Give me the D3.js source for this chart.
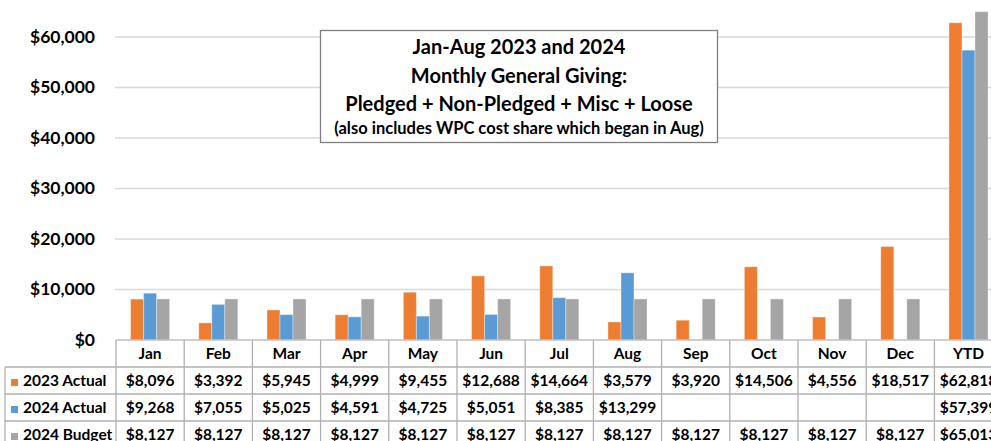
<!DOCTYPE html>
<html><head><meta charset="utf-8">
<script src="https://cdn.jsdelivr.net/npm/d3@7"></script>
<style>
html,body{margin:0;padding:0;background:#fff;overflow:hidden}
svg{display:block;font-family:Lato,"Open Sans",sans-serif;font-weight:bold}
</style></head><body>
<svg id="c" width="991" height="441"></svg>
<script>
const categories = ["Jan","Feb","Mar","Apr","May","Jun","Jul","Aug","Sep","Oct","Nov","Dec","YTD"];
const seriesNames = ["2023 Actual","2024 Actual","2024 Budget"];
const actual2023 = [8096,3392,5945,4999,9455,12688,14664,3579,3920,14506,4556,18517,62818];
const actual2024 = [9268,7055,5025,4591,4725,5051,8385,13299,null,null,null,null,57399];
const budget2024 = [8127,8127,8127,8127,8127,8127,8127,8127,8127,8127,8127,8127,65013];
const yTicks = [0,10000,20000,30000,40000,50000,60000];
const titleLines = ["Jan-Aug 2023 and 2024","Monthly General Giving:","Pledged + Non-Pledged + Misc + Loose","(also includes WPC cost share which began in Aug)"];
const colors = ["#ED7D31","#5B9BD5","#A5A5A5"];
const seriesValues = [actual2023, actual2024, budget2024];

const svg = d3.select("#c");
const plotLeft = 116, colW = 68.2, axisY = 340;
const x = d3.scaleBand().domain(categories).range([plotLeft, plotLeft + colW*categories.length]).padding(0);
const x1 = d3.scaleBand().domain(seriesNames).range([0, x.bandwidth()]).paddingInner(0).paddingOuter(1.12);
const y = d3.scaleLinear().domain([0,60000]).range([axisY, 37]);
const fmt = d3.format("$,.0f");

// gridlines
svg.append("g").selectAll("line").data(yTicks.filter(d=>d>0)).join("line")
  .attr("x1", plotLeft-1).attr("x2", 991)
  .attr("y1", d=>y(d)).attr("y2", d=>y(d))
  .attr("stroke","#d9d9d9").attr("stroke-width",1.3);

// y axis labels
const yAxis = d3.axisLeft(y).tickValues(yTicks).tickFormat(fmt).tickSize(0).tickPadding(0);
const ga = svg.append("g").attr("transform","translate(95,0)").call(yAxis);
ga.select(".domain").remove();
ga.selectAll("text").attr("font-size",17.5).attr("font-family","Lato,sans-serif").attr("font-weight","bold").attr("fill","#000").attr("dy","0.3em");

// bars
const gb = svg.append("g");
seriesNames.forEach((s,i)=>{
  gb.append("g").selectAll("rect")
    .data(categories.map((c,j)=>({c, v:seriesValues[i][j]})).filter(d=>d.v!=null))
    .join("rect")
    .attr("x", d=>x(d.c)+x1(s))
    .attr("width", x1.bandwidth())
    .attr("y", d=>y(d.v))
    .attr("height", d=>axisY - y(d.v))
    .attr("fill", colors[i])
    .attr("stroke","#fff").attr("stroke-opacity",0.35).attr("stroke-width",1);
});

// title box
const tb = svg.append("g");
tb.append("rect").attr("x",320.5).attr("y",30.5).attr("width",397).attr("height",112)
  .attr("fill","#fff").attr("stroke","#7f7f7f").attr("stroke-width",1.3);
const tBase = [54,83,110.5,134];
const tSize = [20,20,20,16.5];
tb.selectAll("text").data(titleLines).join("text")
  .attr("x",519).attr("y",(d,i)=>tBase[i]).attr("text-anchor","middle")
  .attr("font-size",(d,i)=>tSize[i]).attr("fill","#000").text(d=>d);

// table
const rowH = 27, headTop = axisY, row1Top = 367;
const tg = svg.append("g");
const lineC = "#b0b0b0";
const tableRight = x.range()[1];
[row1Top, row1Top+rowH, row1Top+2*rowH, row1Top+3*rowH].forEach(yy=>{
  tg.append("line").attr("x1",5).attr("x2",tableRight).attr("y1",yy).attr("y2",yy).attr("stroke",lineC).attr("stroke-width",1.3);
});
tg.append("line").attr("x1",plotLeft).attr("x2",tableRight).attr("y1",axisY).attr("y2",axisY).attr("stroke","#bfbfbf").attr("stroke-width",1.5);
categories.forEach(c=>{
  tg.append("line").attr("x1",x(c)).attr("x2",x(c)).attr("y1",headTop).attr("y2",441).attr("stroke",lineC).attr("stroke-width",1.3);
});
tg.append("line").attr("x1",tableRight).attr("x2",tableRight).attr("y1",headTop).attr("y2",441).attr("stroke",lineC).attr("stroke-width",1.3);
tg.append("line").attr("x1",5).attr("x2",5).attr("y1",row1Top).attr("y2",441).attr("stroke",lineC).attr("stroke-width",1.3);

// header labels
const tfs = 15.5;
tg.selectAll("text.h").data(categories).join("text").attr("class","h")
  .attr("x",d=>x(d)+x.bandwidth()/2).attr("y",359).attr("text-anchor","middle")
  .attr("font-size",tfs).attr("fill","#000").text(d=>d);

seriesNames.forEach((s,i)=>{
  const base = row1Top + i*rowH + 19;
  tg.append("rect").attr("x",11).attr("y",row1Top + i*rowH + 12).attr("width",7).attr("height",7).attr("fill",colors[i]);
  tg.append("text").attr("x",23).attr("y",base).attr("font-size",tfs).attr("fill","#000").text(s);
  tg.append("g").selectAll("text")
    .data(categories.map((c,j)=>({c, v:seriesValues[i][j]})).filter(d=>d.v!=null))
    .join("text")
    .attr("x",d=>x(d.c)+x.bandwidth()/2).attr("y",base).attr("text-anchor","middle")
    .attr("font-size",tfs).attr("fill","#000").text(d=>fmt(d.v));
});
</script>
</body></html>
